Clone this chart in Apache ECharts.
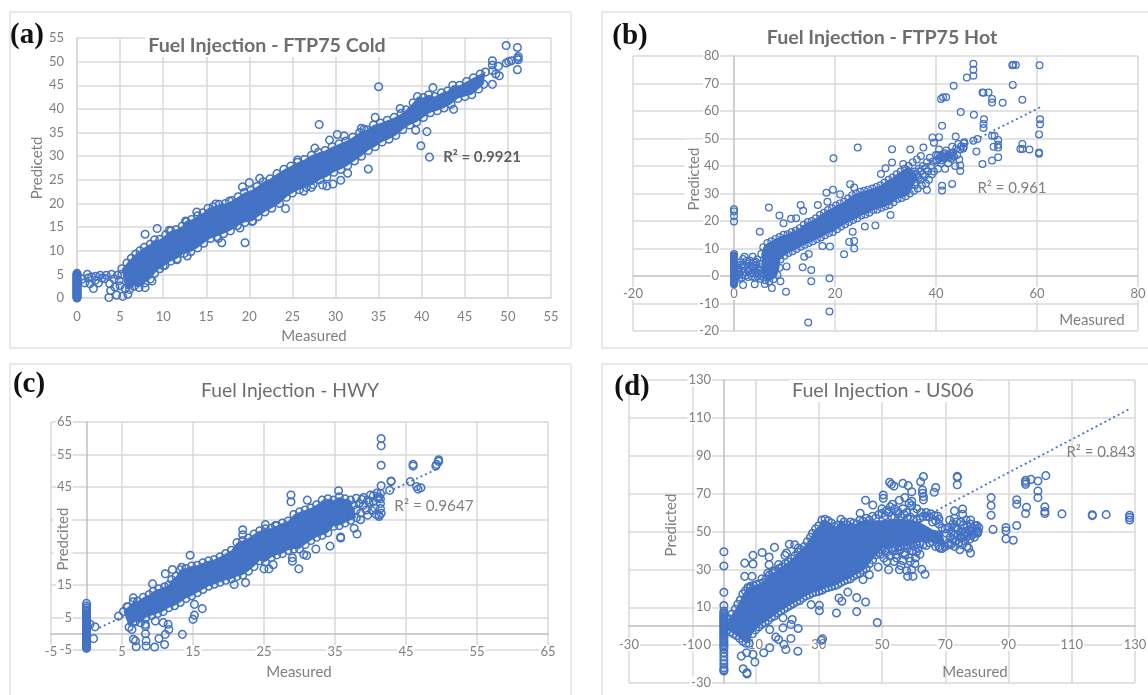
<!DOCTYPE html>
<html><head><meta charset="utf-8">
<script src="https://cdn.jsdelivr.net/npm/echarts@6/dist/echarts.min.js"></script>
<style>html,body{margin:0;padding:0;background:#fff}#c{width:1148px;height:695px}#c canvas{filter:blur(.45px)}</style>
</head><body><div id="c"></div>
<script>
// ---------- Panel (a) FTP75 Cold ----------
const aZeroY=[0,.2,.4,.6,.8,1,1.2,1.4,1.6,1.8,2,2.2,2.4,2.6,2.8,3,3.2,3.4,3.6,3.8,4,4.2,4.4,4.6,4.8,5,5.2];
const aLow=[[.6,4],[.9,3.2],[1.2,5],[1.3,4.2],[1.5,3],[1.7,4.5],[1.9,2],[2.1,3.7],[2.2,4.6],[2.5,3.2],[2.7,4.8],[2.9,4.2],[3.2,4.1],[3.4,4.8],[3.8,3],[3.9,1.6],[3.7,.1],[4,5],[4.3,4],[4.4,2.3],[4.6,.6],[4.7,4.8],[4.9,3.7],[5,2.6],[5.3,.35],[5.9,.8],[5.2,5]];
const aOut=[[49.8,53.4],[51.1,53],[51.1,48.3],[50.1,50],[49.8,49.7],[50.4,50.2],[51.2,51.1],[51.2,50.4],[51.1,50.7],[48.2,50.2],[48.2,49.3],[48.2,48.1],[48.2,45.2],[49,47],[48.9,49],[48.6,47.4],[35,44.7],[28.1,36.7],[19.5,11.7],[24.2,18.9],[40.9,29.8],[39.9,32.2],[40.6,35.2],[39.3,35.5],[33.8,27.3],[7.9,13.5],[9.3,14.7],[41.3,44.5],[43.7,39.9],[34.6,38.2],[37.5,40.1],[33,35.9],[33.3,35.7],[30.2,34.6],[31,34.3],[29.3,33.4],[27.6,31.7],[25.6,29.2],[31.4,26.4],[30.6,24.9],[29.7,24.1],[28.5,23.9],[29,23.7],[26.3,22.6],[27.2,23.4],[21.2,25.3],[20,24.4],[19.2,23.5],[16.8,11.7],[16.4,12.6],[18.9,14.8],[20.4,16.3],[13.9,18.2],[16.1,19.9],[17.7,20.5],[12.7,16.1],[10.7,14.3],[12.8,8.9],[11.6,8.1],[10,6.8],[8.7,3.6],[7.9,2.2]];
const aUp=[[5.2,6.2],[5.8,7.4],[6.3,8.4],[6.8,9.3],[7.3,10],[7.8,10.7],[8.5,11.4],[9,12.3],[9.6,12.4],[10.3,13.4],[10.9,14.2],[11.5,14.5],[12.2,15.2],[12.6,16.3],[13.3,16.6],[14,17.4],[14.6,18],[15.2,19],[15.8,19.3],[16.5,19.8],[17.2,20],[18,20.6],[18.7,21.4],[19.4,22.3],[20.2,22.8],[20.9,23.6],[21.6,24.6],[22.4,25.2],[23.2,26.3],[24,27.2],[24.8,27.9],[25.6,28.7],[26.4,29.3],[27.2,30.2],[28,30.8],[28.8,31.2],[29.6,32],[30.4,32.6],[31.2,33.2],[32,34],[32.8,35],[33.6,35.6],[34.4,36.6],[35.2,37],[36,37.6],[36.8,38.2],[37.6,39],[38.2,39.8],[39,41.3],[39.5,42.6],[40.2,42.4],[40.8,43],[41.5,42.6],[42.3,43.4],[43,43.8],[43.6,45],[44.4,45],[45.2,45.8],[46,46.6],[46.8,47.4],[47.4,47.8]];
const aLo=[[5.6,2],[6.1,1.8],[6.6,2.5],[7.2,2.2],[7.9,3.2],[8.5,4],[9,5.2],[9.6,6.2],[10.2,6.9],[10.9,7.8],[11.6,8.3],[12.4,9.4],[13.2,9.8],[14,10.6],[14.7,11.6],[15.5,12.6],[16.2,13],[17,13.6],[17.8,14.2],[18.6,15.3],[19.5,16],[20.3,16.2],[21,17.2],[21.8,18.2],[22.6,19],[23.5,20],[24.3,21.3],[25,22.2],[25.8,22.9],[26.6,23.4],[27.4,24],[28.2,25],[29,25.6],[29.8,26.6],[30.6,27.2],[31.4,28],[32.2,29],[33,30],[33.8,31.2],[34.6,32],[35.4,33],[36.2,33.6],[37,34.4],[37.8,35.6],[38.6,36.6],[39.4,37.2],[40.2,38.2],[41,39.2],[41.8,39.6],[42.6,40.2],[43.4,41],[44.2,42.2],[45,42.6],[45.8,43],[46.6,44.2],[47.2,45.2]];

// ---------- Panel (b) FTP75 Hot ----------
const bZeroY=[-3,-2.75,-2.5,-2.25,-2,-1.75,-1.5,-1.25,-1,-.75,-.5,-.25,0,.25,.5,.75,1,1.25,1.5,1.75,2,2.25,2.5,2.75,3,3.25,3.5,3.75,4,4.25,4.5,4.75,5,5.25,5.5,5.75,6,6.25,6.5,6.75,7,7.25,7.5,8,19.8,21.8,23.5,24.3];
const bLow=[[.6,1],[.9,3],[1,-1],[1.2,5],[1.4,2],[1.7,.4],[1.8,6.2],[2,3.6],[2.2,1.4],[2.1,7],[2.6,4.4],[2.8,-.4],[3,2.6],[3.1,5.6],[3.4,.8],[3.7,7],[3.6,3.4],[3.9,5],[4.1,1.8],[4.2,-.6],[4.4,4],[4.6,6],[4.8,2.6],[4.9,.6],[5,4.4],[5.2,-1],[5.4,1.4],[1.6,4.2],[2.4,5.4],[.8,1.8],[1.8,-3.3],[4.1,-3],[6.1,-2.9],[7.5,-4.4],[.5,-.4],[.5,2.4],[.7,4],[1.1,.8],[1.5,-.6],[2.3,.2],[2.9,1.8],[3.3,3.8],[3.5,-.2],[3.8,1],[4,3],[4.3,5.2],[4.5,1.2],[4.7,-.2],[5,2],[5.3,3.2],[5.5,-.2]];
const bOut=[[47.4,77.2],[47.4,75],[47.4,72.8],[46.1,72.2],[43.5,69.2],[55.3,76.8],[55.1,76.6],[55.8,76.7],[60.5,76.6],[55.2,69.5],[57.1,64.1],[53.2,63],[51.1,64.4],[51.1,63.1],[50.4,66.7],[49.2,66.7],[49.4,66.6],[41,64.4],[41.4,65],[42,65],[44.9,59.6],[47.5,58.6],[49.5,57],[49.4,55.3],[49.4,53.8],[41.2,54.6],[60.6,57],[60.6,55.2],[60.4,51.5],[60.4,44.9],[60.4,44.5],[51.1,51],[51.6,51],[52.3,49.5],[51.4,47],[52.3,47.7],[52.3,46.7],[57.1,48],[56.7,46.2],[57.1,46.2],[58.5,46],[48,45.3],[49.2,40.7],[51.1,42],[52.3,43.2],[47.4,49.2],[48.2,49.8],[43.2,33.5],[41.2,32.8],[41.2,31.1],[38.2,31.3],[44.8,38.2],[44.8,40.2],[45.5,48.3],[45.5,47],[39.3,50.4],[40.6,50.5],[43.9,50.7],[39.6,48.5],[37.5,46.7],[31.3,46.1],[34.9,46],[24.5,46.7],[19.7,42.8],[31.3,41.3],[33.5,40.7],[30,39.2],[29.1,37.1],[23,33.4],[23.8,32.2],[19.6,31.4],[18.3,30.3],[13.2,25.8],[13.7,23.7],[6.9,24.9],[9,22],[9.8,19.2],[5.1,16.1],[11.3,20.8],[12.3,21],[16.6,25.8],[18.5,27],[21,29.7],[31,22.2],[28,18.4],[25.9,18],[23.5,16.1],[22.8,12.4],[23.8,12.7],[23.8,10],[21.8,7.9],[19,10.7],[17.5,10.9],[14.8,8],[13.9,7],[10.4,3.5],[13.6,3.2],[15.3,2.2],[18.9,-.8],[15.3,-1.9],[9.2,-1.9],[10.3,-5.7],[18.9,-12.9],[14.7,-16.9]];
const bUp=[[5.4,8],[5.8,10.5],[6.6,12],[7.4,12.6],[8.2,13.5],[9,14.2],[9.8,15],[10.6,15.2],[11.4,16],[12.2,16.5],[13,17.4],[13.8,18.6],[14.6,19.6],[15.4,20],[16.2,21],[17,22.2],[17.8,23],[18.6,24],[19.4,24.6],[20.2,25.6],[21,26.4],[21.8,27],[22.6,28.2],[23.4,29.4],[24.2,30],[25,30.6],[25.8,31],[26.6,31.4],[27.4,31.8],[28.2,32.4],[29,33],[29.8,34],[30.6,35],[31.4,35.8],[32.2,37],[33,38],[33.8,39],[34.6,40],[36.4,36.4]];
const bLo=[[5.6,1],[6.2,-1.5],[7,-2],[7.8,-1.2],[8.6,.4],[9,3],[9.2,6],[10,7.4],[10.8,8.4],[11.6,9],[12.4,9.8],[13.2,10.6],[14,11.4],[14.8,12],[15.6,12.6],[16.4,13.4],[17.2,14],[18,14.8],[18.8,15.6],[19.6,16],[20.4,17],[21.2,18],[22,18.8],[22.8,19.6],[23.6,20.4],[24.4,21],[25.2,22],[26,22.4],[26.8,23],[27.6,24],[28.4,24.2],[29.2,24.8],[30,25.4],[30.8,25.8],[31.6,26.8],[32.4,28],[33.2,28.4],[34,29],[34.8,30]];
const bCloud=[[35.6,31],[36.4,31.8],[37.2,33],[38,33.6],[35.4,41.4],[36.2,42.4],[37,43.6],[35,36],[35.8,38],[36,34],[36.6,35.6],[37,38],[37.4,40],[37.8,36.4],[38.2,41.4],[38.4,38],[38.8,43],[39,40],[39.4,41.6],[39.6,38],[40,44],[40.2,42],[40.4,39],[40.6,46],[40.8,43.6],[41,41],[41.4,44.4],[41.6,42.6],[41.8,39],[42,45.6],[42.2,43.6],[42.4,41],[42.8,44.4],[43,42.6],[43.2,47],[43.4,45],[43.6,43.4],[43.8,40],[44,46.4],[44.2,44],[44.4,48],[44.6,42.4],[44.8,46],[45,47.2],[45.4,46.4],[45.6,48.6],[41,43],[41.5,43.5],[42,43],[42.5,44],[41.2,42],[40.6,42.6],[41.8,44.6],[42.6,43.2],[43.2,43.8],[40.4,44],[35,34],[35.4,35.4],[35.8,33],[36.2,37],[36.6,39],[37,35],[37.4,37],[38,39],[38.6,35],[39.2,37]];
const bTrend=[[8,13],[60.6,61.3]];

// ---------- Panel (c) HWY ----------
const cZeroY=[-4.5,-4.2,-3.9,-3.6,-3.3,-3,-2.7,-2.4,-2.1,-1.8,-1.5,-1.2,-.9,-.6,-.3,0,.3,.6,.9,1.2,1.5,1.8,2.1,2.4,2.7,3,3.3,3.6,3.9,4.2,4.5,4.8,5.1,5.4,5.8,6.3,6.8,7.3,7.9,8.5,9.3];
const cOut=[[41.5,59.9],[41.5,57.7],[41.5,51.7],[41.5,45.4],[46,52],[46,51.5],[49.6,53.4],[49.6,52.9],[49.2,51.5],[49.3,52],[42.9,46.7],[42.9,46.9],[42.7,44],[45.6,46.7],[46.5,45.2],[46.7,44.4],[47.1,44.8],[28.8,42.6],[28.8,40.5],[31.1,41],[35.5,43.9],[38.1,30.6],[37.7,32.4],[35.8,29.7],[35.8,29.4],[34.3,26.9],[32.3,26],[31,24],[30.6,24.3],[29.9,19.9],[29,22.2],[29,23.3],[26.3,21.2],[25.7,19.9],[25,19.9],[22,31.9],[22,30.4],[25.2,33.5],[26.6,33.2],[14.6,24.1],[13.4,20.4],[12.1,19.7],[11.1,18.4],[9.3,15.3],[22.4,15.7],[20.8,15.1],[16.3,7.7],[15.2,9],[15.2,5.7],[15,4.4],[13.5,-.2],[11.5,2.9],[10.8,3.4],[9.7,3.9],[11.6,1.3],[11.1,-.2],[10.2,-1.5],[11,-3.3],[9.6,-4.1],[8.4,-3.8],[8.4,-2.2],[8.3,0],[8.3,2.3],[7,-4],[6.9,-2.2],[6.6,-1.7],[6.4,1.3],[6.9,3.9],[8.3,2.9],[4.5,5.4],[6.6,11],[5.7,8.3],[1.2,2.1],[1,-1.5],[.5,2.9]];
const cUp=[[5.2,6.8],[5.8,8.2],[6.6,9.8],[7.2,10],[8,11.2],[8.8,12],[9.4,13],[10.2,13.8],[11,14.4],[11.6,15],[12,16.6],[12.6,17.6],[13.2,19.6],[14,20],[14.8,20.8],[15.6,21],[16.4,21.8],[17.2,22.4],[18,22.8],[18.8,23.6],[19.6,24.6],[20.4,25.6],[21.2,28],[22,28.6],[22.8,29.4],[23.6,30.6],[24.4,31.6],[25.2,32.2],[26,32.4],[26.8,33.2],[27.6,34],[28.4,34.6],[29.2,36.6],[30,37.4],[30.8,38],[31.6,38.6],[32.4,39.6],[33.2,41],[34,41.4],[34.8,41],[35.6,42],[36.4,41.4],[37.2,41]];
const cLo=[[6,2],[6.8,3.6],[7.6,3.4],[8.4,5],[9.2,5.6],[10,6.2],[10.8,6.8],[11.6,8],[12.4,8.6],[13.2,9.6],[14,10.8],[14.8,11.6],[15.6,12.6],[16.4,13.6],[17.2,14.6],[18,15.2],[18.8,15.8],[19.6,16.4],[20.4,16.8],[21.2,17.6],[22,18],[22.8,19.2],[23.6,20.6],[24.4,22.4],[25.2,22],[26,23.4],[26.8,24.2],[27.6,24.6],[28.4,25.6],[29.2,26],[30,26],[30.8,27.4],[31.6,28.6],[32.4,29.6],[33.2,30.2],[34,31],[34.8,33],[35.6,33.2],[36.4,34],[37.2,34.8],[38,35.6]];
const cCloud=[[38,41.6],[38.8,41.2],[39.6,41],[40.4,42.4],[41.2,42],[38,38],[38.6,37],[39,39.4],[39.4,38],[39.8,40.4],[40.2,37.8],[40.6,38.6],[40.8,36.6],[41,41.6],[41.2,36],[41.4,43],[41.4,40],[41.4,38.4],[41.5,37],[40.9,43.2],[41.2,36.4],[37.6,39.4],[38.4,40],[37.2,37.4],[36.8,39],[38.6,35],[39.6,36.4],[40.4,40.6],[41.4,41.4],[39,41.8],[40,42.6]];
const cTrend=[[1.8,1.8],[49.6,50.8]];

// ---------- Panel (d) US06 ----------
const dZeroY=[-23.7,-23,-22,-20,-18,-16,-14,-12,-11,-10,-9,-8,-7,-6,-5,-4.2,-3.4,-2.6,-1.8,-1,-.2,.6,1.4,2.2,3,3.8,4.6,5.4,6.2,7,8,10.9,17.9,31.8,39.3];
const dOut=[[101.8,79.5],[99.3,76.7],[97.1,77.5],[95.4,77],[95.4,76],[95.4,74.9],[99.3,71.4],[99.3,67.9],[92.6,66.8],[92.6,64.4],[95.7,62.8],[95.4,59.5],[101.5,63],[101.5,60.5],[101.5,59.5],[106.9,59.3],[116.5,58.8],[116.5,58.4],[120.9,58.9],[128.3,58.6],[128.3,57.4],[128.3,56.1],[84.5,67.9],[84.5,63.7],[84.5,58.6],[85.1,51.1],[89.2,52.1],[89.2,50.4],[89.2,46.1],[91.5,45.4],[92.6,53.2],[73.8,79.1],[73.8,78.6],[73.8,74.7],[67,73.2],[66.5,70.7],[63.1,79],[62.2,76.3],[62.8,71.9],[62.8,70.2],[63.1,68.4],[63.1,66.7],[52.4,76],[53,74.9],[53.8,74],[56.6,75.4],[58.3,74.2],[59.4,71],[59.4,66],[59.4,63.7],[50.4,69.3],[50.4,67.5],[44.8,66.5],[47.1,64],[43.1,59.6],[53.3,64.4],[55.5,66.5],[57.2,67.9],[72.9,60.9],[75.5,61.9],[75.5,59.1],[72.9,57],[78,56.1],[80,53.2],[80.2,49.1],[77.4,41.2],[78,38.6],[74.6,40.4],[71.8,43],[68.4,41.2],[76.6,50],[73.5,51.8],[75.2,46.5],[72.4,45.6],[76.9,47.4],[78.5,48.2],[74,48.2],[71.2,43],[75.7,53.5],[72.9,52.1],[63.6,27.4],[59.8,26.3],[58.1,26.3],[57.8,29.3],[59.4,29.8],[55.5,29.8],[52.1,29.8],[48.8,31.2],[51.6,34.2],[53.8,34.2],[56.6,34.6],[58.9,34.2],[60.6,36],[60.9,39.1],[57.2,37.7],[54.4,37.7],[46,27.2],[44,24.6],[48.5,1.9],[44.8,12.8],[42,15.1],[42,7.7],[39.2,18],[37.3,13.2],[36.4,14.9],[35.6,7],[30.2,11],[27.6,11.4],[30.2,8.2],[31.2,-6.7],[30.8,-7.5],[23.5,-1.2],[21.2,.9],[21.6,3.5],[18.7,4.4],[18.7,-.9],[21.2,-6.5],[16.4,-5.8],[14.5,-1.8],[17.3,-7],[19.6,-12.3],[19,-9.6],[23.4,-13.2],[14.5,-11.4],[12.6,-14],[9.2,-14.9],[9.8,-18.9],[7.2,-14],[5.5,-15.8],[6.1,-22.5],[7.3,-24.6],[7.3,-25.2],[16,41.6],[20.7,43.3],[22.4,43],[23.5,41.2],[19.8,38.6],[19.3,37.4],[12.1,38.9],[9.2,37.4],[9.2,32.8],[6.6,33.3],[6.6,26.3],[8.9,26.3],[14.3,36.5],[14.3,32.5],[17.3,32.5],[13.9,28],[15.6,29],[12,25],[8.3,20.2]];
const dUp=[[1.5,4],[2.6,6.4],[3.6,9],[4.4,11.6],[5.2,13.8],[6,17],[6.8,18.6],[7.6,20.4],[8.4,21],[9.4,21.4],[10.4,22],[11.4,22.4],[12.4,23],[13.4,25],[14.4,27],[15.4,28],[16.4,29.4],[17.4,30.4],[18.4,31.4],[19.4,33],[20.4,34],[21.4,35.6],[22.4,37],[23.4,39],[24.4,40.4],[25.4,42],[26.4,44.6],[27.4,47],[28,49],[29,51.4],[30,53],[31,56],[32,56.4],[33,55.6],[34,54.4],[35,52.6],[36,53.4],[37,56.4],[38,55],[39,53.6],[40,55],[41,54.4],[42,54],[43,56],[44,55.4],[45,57],[46,56],[47,58],[48,57],[49,59],[50,59.6],[51,58.4],[52,60],[53,58],[54,57.4],[55,59.4],[56,58],[57,59],[58,57],[59,57.6],[60,56],[61,56],[62,57],[63,58],[64,58],[65,57.6],[66,55],[67,55.6],[68,54],[69,52],[70,51.4]];
const dLo=[[1,-2],[2,-3],[3,-4],[4,-5],[5,-6.4],[6,-8],[7,-9],[8,-9],[9,-4],[10,-2],[11,-.4],[12,1],[13,2],[14,3],[15,4.6],[16,5.4],[17,7],[18,8],[19,9],[20,10],[21,11],[22,12],[23,13],[24,13.6],[25,15],[26,16],[27,16.6],[28,17.6],[29,18],[30,18.4],[31,19],[32,20],[33,20.4],[34,21],[35,21.4],[36,22],[37,23],[38,24],[39,24.6],[40,25],[41,26.4],[42,27.4],[43,28],[44,29.6],[45,30.4],[46,33],[47,35],[48,37.6],[49,38.8],[50,40.4],[51,40],[52,41],[53,41],[54,41.6],[55,42],[56,42],[57,42.6],[58,42.8],[59,43],[60,42.4],[61,43],[62,43.6],[63,43],[64,42.6],[65,44],[66,44.6],[67,42],[68,42],[69,41],[70,42]];
// the solid part of the cloud past x=46 is narrower than its outline of single rings
const dCoreTop=[[50,56],[55,57],[60,56],[63,54],[66,51],[69,50]];
const dCoreBottom=[[70,43],[66,44],[63,45],[60,43],[55,42],[50,41]];
// open rings read from the cluster at x=71..81 and around the tail of the cloud
const dCluster=[[71,44],[71.6,47],[72,50],[72.4,54],[72.8,48],[73,42],[73.2,45],[73.6,55],[74,51],[74.2,44],[74.6,47],[75,55],[75,50],[75.4,43],[75.8,48],[76,52],[76.2,45],[76.6,56],[76.8,42],[77,53],[77.2,49],[77.6,51],[77.8,46],[78,54],[78.4,50],[78.6,52],[79,49],[79.2,47],[79.4,53],[79.8,51],[80,50],[80.4,50],[80.6,52],[70.4,49],[70.8,52],[71.4,56]];
const dTail=[[49.6,38],[50.6,36],[51.4,39],[52.6,37],[53.4,40],[54.6,36],[55.6,40],[56,32],[57,39],[58,41],[58.6,36],[59.6,40],[60.4,33],[61.4,41],[62,38],[62.6,30],[50,62],[51.4,61],[52.6,63],[54,62],[55,60.6],[56.6,62],[57.8,60],[58.6,65],[60,60],[61,62],[62.4,60],[64,60],[65.4,59.4],[66.6,58.4],[68,56.6],[67.6,58.2]];
const dTrend=[[0,2],[128.5,114.9]];

const BLUE='#4472c4', GRID='#d9d9d9', AXIS='#bfbfbf', TXT='#7f7f7f', FONT='Lato';
const hiddenC=[35,25];

function axis(gridIndex,min,max,step,margin,o){
  o=o||{};
  return {type:'value',gridIndex,min,max,interval:step,
    axisLine:{show:true,onZero:true,lineStyle:{color:o.line||AXIS,width:1.5}},
    axisTick:{show:false},
    splitLine:{show:true,lineStyle:{color:GRID,width:1.5}},
    axisLabel:Object.assign({color:TXT,fontFamily:FONT,fontSize:13,margin,showMinLabel:true,showMaxLabel:true,hideOverlap:false},
      o.bg?{backgroundColor:'#fff',padding:[0,1]}:{},o.fmt?{formatter:o.fmt}:{})};
}
function dots(i,data,size,bw){
  return {type:'scatter',xAxisIndex:i,yAxisIndex:i,data,symbol:'circle',symbolSize:size,silent:true,
    itemStyle:{color:'rgba(0,0,0,0)',borderColor:BLUE,borderWidth:bw,opacity:1},z:3};
}
function band(i,pts){
  return {type:'custom',xAxisIndex:i,yAxisIndex:i,data:pts,encode:{x:0,y:1},silent:true,z:3,
    renderItem:(p,api)=>p.dataIndex===0?{type:'polygon',shape:{points:pts.map(q=>api.coord(q))},style:{fill:BLUE}}:null};
}
const outline=(up,lo)=>up.concat(lo.slice().reverse());
function trend(i,pts){
  return {type:'line',xAxisIndex:i,yAxisIndex:i,data:pts,symbol:'none',silent:true,z:2,
    lineStyle:{color:BLUE,width:1.8,type:[2,3]}};
}
const atZero=ys=>ys.map(y=>[0,y]);
function txt(text,x,y,o){
  return {type:'text',x,y,z:50,rotation:(o&&o.rot)||0,
    style:Object.assign({text,fill:TXT,font:`15px ${FONT}`,align:'center',verticalAlign:'middle'},o&&o.style)};
}
function frame(x,y,w,h){
  return {type:'rect',z:1,shape:{x,y,width:w,height:h},style:{fill:'none',stroke:'#e4e4e4',lineWidth:1.5}};
}
function ttl(text,x,y,size,weight){
  return {text,left:x,top:y,textAlign:'center',backgroundColor:'#fff',padding:[1,3],z:20,
    textStyle:{color:'#6e6e6e',fontFamily:FONT,fontSize:size,fontWeight:weight}};
}
const rot=Math.PI/2, LETTER={font:'bold 29px "Liberation Serif"',fill:'#111'};
const dCoreUp=dUp.filter(p=>p[0]<=46), dCoreLo=dLo.filter(p=>p[0]<=46);
const S=7.6, W=1.5, Sb=6.8, Wb=1.2;
const option={
  animation:false,backgroundColor:'#fff',
  title:[
    ttl('Fuel Injection - FTP75 Cold',264,35,19.6,'bold'),
    ttl('Fuel Injection - FTP75 Hot',879,27,19.6,'bold'),
    ttl('Fuel Injection - HWY',287,380,19.3,'normal'),
    ttl('Fuel Injection - US06',880,380,19.7,'normal')
  ],
  grid:[
    {left:77,width:474,top:38,height:260,outerBoundsMode:'none'},
    {left:633,width:505,top:56,height:275,outerBoundsMode:'none'},
    {left:51,width:497,top:422,height:228,outerBoundsMode:'none'},
    {left:629,width:506,top:380,height:303,outerBoundsMode:'none'}
  ],
  xAxis:[
    axis(0,0,55,5,12,{line:GRID}),
    axis(1,-20,80,20,-44,{bg:1,line:'#c9c9c9'}),
    axis(2,-5,65,10,-5,{bg:1}),
    axis(3,-30,130,20,-45,{bg:1})
  ],
  yAxis:[
    axis(0,0,55,5,13,{line:GRID}),
    axis(1,-20,80,10,-87,{bg:1,line:'#c9c9c9'}),
    axis(2,-5,65,10,-22,{bg:1,fmt:v=>hiddenC.includes(v)?'':String(v)}),
    axis(3,-30,130,20,-83,{bg:1})
  ],
  series:[
    band(0,outline(aUp,aLo)),dots(0,atZero(aZeroY),S,W),dots(0,aLow,S,W),dots(0,aUp,S,W),dots(0,aLo,S,W),dots(0,aOut,S,W),
    trend(1,bTrend),band(1,outline(bUp,bLo)),dots(1,atZero(bZeroY),Sb,Wb),dots(1,bLow,Sb,Wb),dots(1,bUp,Sb,Wb),dots(1,bLo,Sb,Wb),dots(1,bCloud,Sb,Wb),dots(1,bOut,Sb,Wb),
    trend(2,cTrend),band(2,outline(cUp,cLo)),dots(2,atZero(cZeroY),S,W),dots(2,cUp,S,W),dots(2,cLo,S,W),dots(2,cCloud,S,W),dots(2,cOut,S,W),
    trend(3,dTrend),band(3,outline(dCoreUp.concat(dCoreTop),dCoreLo.concat(dCoreBottom.slice().reverse()))),dots(3,atZero(dZeroY),S,W),dots(3,dUp,S,W),dots(3,dLo,S,W),dots(3,dOut,S,W),dots(3,dCluster,S,W),dots(3,dTail,S,W)
  ],
  graphic:[
    frame(10,12,561,336),frame(602,12,560,336),frame(10,364,561,345),frame(602,364,560,345),
    txt('(a)',27,36,{style:LETTER}),
    txt('(b)',630,37,{style:LETTER}),
    txt('(c)',29,385,{style:LETTER}),
    txt('(d)',632,388,{style:LETTER}),
    txt('Measured',314,336),
    txt('Predicetd',37,168,{rot}),
    txt('Measured',1092,320),
    txt('Predicted',694,179,{rot,style:{backgroundColor:'#fff',padding:[2,8,2,8]}}),
    txt('Measured',299,672),
    txt('Predcited',63,539,{rot,style:{backgroundColor:'#fff',padding:[4,6,0,6]}}),
    txt('Measured',975,672),
    txt('Predicted',671,525,{rot}),
    txt('R² = 0.9921',482,157,{style:{font:`bold 15px ${FONT}`,fill:'#5f5f5f'}}),
    txt('R² = 0.961',1012,188,{style:{font:`15px ${FONT}`}}),
    txt('R² = 0.9647',434,506,{style:{font:`15.3px ${FONT}`}}),
    txt('R² = 0.843',1101,452,{style:{font:`15px ${FONT}`}})
  ]
};
const chart=echarts.init(document.getElementById('c'),null,{renderer:'canvas'});
chart.setOption(option);
</script></body></html>
